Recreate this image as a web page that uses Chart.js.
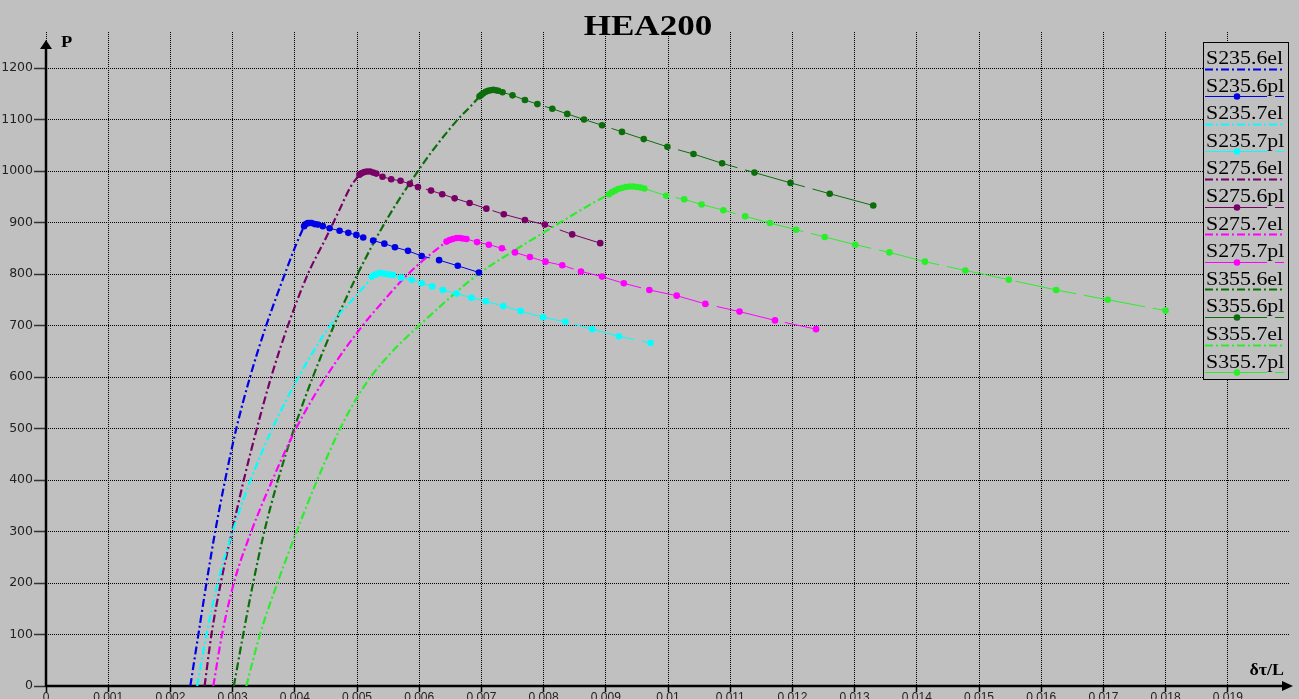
<!DOCTYPE html>
<html>
<head>
<meta charset="utf-8">
<title>HEA200</title>
<script src="https://cdn.jsdelivr.net/npm/chart.js@4.4.1/dist/chart.umd.min.js"></script>
<style>
  html, body { margin: 0; padding: 0; width: 1299px; height: 699px; overflow: hidden; background: #c0c0c0; }
  canvas { display: block; }
</style>
</head>
<body>
<canvas id="chart" width="1299" height="712"></canvas>
<script>
// Axis ticks
const xTicks = [0, 0.001, 0.002, 0.003, 0.004, 0.005, 0.006, 0.007, 0.008, 0.009,
                0.010, 0.011, 0.012, 0.013, 0.014, 0.015, 0.016, 0.017, 0.018, 0.019];
const xTickLabels = ['0', '0.001', '0.002', '0.003', '0.004', '0.005', '0.006', '0.007', '0.008', '0.009',
                     '0.01', '0.011', '0.012', '0.013', '0.014', '0.015', '0.016', '0.017', '0.018', '0.019'];
const yTicks = [0, 100, 200, 300, 400, 500, 600, 700, 800, 900, 1000, 1100, 1200];
const yTickLabels = ['0', '100', '200', '300', '400', '500', '600', '700', '800', '900', '1000', '1100', '1200'];

// S235, L/h = 6
const s2356elX = [0.00232, 0.00245, 0.00258, 0.00272, 0.00288, 0.00306, 0.00328, 0.00354, 0.00384, 0.00403, 0.00415];
const s2356elP = [0, 100, 200, 300, 400, 500, 600, 700, 800, 860, 893];
const s2356plX = [0.00415, 0.00418, 0.00421, 0.00424, 0.00427, 0.00432, 0.00437, 0.00445, 0.00456, 0.00472, 0.00486,
                  0.00499, 0.00510, 0.00526, 0.00544, 0.00561, 0.00582, 0.00604, 0.00632, 0.00662, 0.00696];
const s2356plP = [893, 897, 899, 899, 899, 897, 896, 893, 889, 884, 880,
                  876, 871, 865, 859, 852, 845, 835, 827, 816, 803];

// S235, L/h = 7
const s2357elX = [0.00243, 0.00258, 0.00276, 0.00300, 0.00329, 0.00364, 0.00406, 0.00457, 0.00500, 0.00518, 0.00524];
const s2357elP = [0, 100, 200, 300, 400, 500, 600, 700, 760, 785, 795];
const s2357plX = [0.00524, 0.00528, 0.00532, 0.00537, 0.00542, 0.00547, 0.00553, 0.00558, 0.00571, 0.00588, 0.00604, 0.00621,
                  0.00638, 0.00660, 0.00684, 0.00707, 0.00735, 0.00763, 0.00799, 0.00835, 0.00878, 0.00921, 0.00972];
const s2357plP = [795, 798, 800, 802, 801, 800, 799, 798, 793, 789, 782, 776,
                  769, 762, 754, 747, 738, 728, 716, 707, 693, 679, 666];

// S275, L/h = 6
const s2756elX = [0.00255, 0.00266, 0.00281, 0.00299, 0.00318, 0.00339, 0.00362, 0.00389, 0.00421, 0.00450, 0.00470, 0.00490, 0.00504];
const s2756elP = [0, 100, 200, 300, 400, 500, 600, 700, 800, 870, 920, 970, 993];
const s2756plX = [0.00504, 0.00508, 0.00512, 0.00516, 0.00521, 0.00526, 0.00531, 0.00541, 0.00555, 0.00570, 0.00585,
                  0.00598, 0.00619, 0.00637, 0.00657, 0.00681, 0.00708, 0.00736, 0.00770, 0.00802, 0.00846, 0.00891];
const s2756plP = [993, 996, 998, 999, 999, 997, 995, 989, 984, 981, 975,
                  969, 962, 955, 947, 938, 927, 916, 905, 896, 877, 860];

// S275, L/h = 7
const s2757elX = [0.00269, 0.00283, 0.00302, 0.00330, 0.00364, 0.00402, 0.00450, 0.00509, 0.00537, 0.00574, 0.00600, 0.00625, 0.00644];
const s2757elP = [0, 100, 200, 300, 400, 500, 600, 700, 740, 790, 820, 845, 863];
const s2757plX = [0.00644, 0.00649, 0.00654, 0.00660, 0.00665, 0.00670, 0.00676, 0.00693, 0.00712, 0.00733, 0.00754, 0.00778,
                  0.00803, 0.00830, 0.00860, 0.00894, 0.00929, 0.00970, 0.01014, 0.01060, 0.01115, 0.01172, 0.01238];
const s2757plP = [863, 866, 868, 870, 870, 869, 868, 862, 857, 850, 842, 833,
                  824, 817, 805, 795, 782, 769, 758, 742, 727, 710, 693];

// S355, L/h = 6
const s3556elX = [0.00302, 0.00317, 0.00333, 0.00351, 0.00373, 0.00399, 0.00429, 0.00463, 0.00501, 0.00545, 0.00598,
                  0.00628, 0.00662, 0.00686, 0.00697];
const s3556elP = [0, 100, 200, 300, 400, 500, 600, 700, 800, 900, 1000, 1050, 1100, 1130, 1145];
const s3556plX = [0.00697, 0.00700, 0.00703, 0.00707, 0.00711, 0.00715, 0.00719, 0.00723, 0.00727, 0.00734, 0.00750, 0.00770, 0.00790,
                  0.00814, 0.00838, 0.00865, 0.00894, 0.00926, 0.00961, 0.00999, 0.01041, 0.01087, 0.01139, 0.01197, 0.01260, 0.01330];
const s3556plP = [1145, 1148, 1151, 1154, 1156, 1157, 1158, 1157, 1156, 1153, 1147, 1138, 1130,
                  1121, 1111, 1100, 1089, 1076, 1062, 1047, 1033, 1015, 997, 977, 956, 933];

// S355, L/h = 7
const s3557elX = [0.00322, 0.00344, 0.00372, 0.00403, 0.00436, 0.00473, 0.00500, 0.00522, 0.00557, 0.00600, 0.00655,
                  0.00695, 0.00752, 0.00813, 0.00868, 0.00905];
const s3557elP = [0, 100, 200, 300, 400, 500, 560, 600, 650, 700, 760, 800, 845, 890, 930, 955];
const s3557plX = [0.00905, 0.00910, 0.00915, 0.00920, 0.00926, 0.00932, 0.00938, 0.00944, 0.00950, 0.00956, 0.00962, 0.00997, 0.01026,
                  0.01054, 0.01089, 0.01124, 0.01164, 0.01206, 0.01252, 0.01301, 0.01356, 0.01413, 0.01478, 0.01548, 0.01624, 0.01707, 0.01800];
const s3557plP = [955, 959, 962, 965, 967, 969, 970, 970, 969, 968, 966, 952, 945,
                  935, 924, 912, 899, 886, 872, 857, 842, 824, 807, 789, 769, 750, 729];

// Series colours
const colBlue = '#0000e6';
const colCyan = '#00ffff';
const colPurple = '#780066';
const colMagenta = '#ff00ff';
const colDarkGreen = '#0b6e0b';
const colLightGreen = '#2aee2a';

const elDash = [8, 3, 2, 3];
const plDash = [62, 8];

const toPoints = (xs, ps) => xs.map((x, i) => ({ x: x, y: ps[i] }));

function elSeries(label, color, xs, ps) {
  return {
    label: label, data: toPoints(xs, ps),
    borderColor: color, backgroundColor: color,
    borderWidth: 2.2, borderDash: elDash,
    pointRadius: 0, pointHoverRadius: 0,
    showLine: true, fill: false,
    cubicInterpolationMode: 'monotone',
    order: 2
  };
}
function plSeries(label, color, xs, ps) {
  return {
    label: label, data: toPoints(xs, ps),
    borderColor: color, backgroundColor: color,
    pointBackgroundColor: color, pointBorderColor: color,
    borderWidth: 1, borderDash: plDash,
    pointRadius: 3.3, pointBorderWidth: 0, pointHoverRadius: 3.3,
    showLine: true, fill: false, tension: 0,
    order: 1
  };
}

const datasets = [
  elSeries('S235.6el', colBlue, s2356elX, s2356elP),
  plSeries('S235.6pl', colBlue, s2356plX, s2356plP),
  elSeries('S235.7el', colCyan, s2357elX, s2357elP),
  plSeries('S235.7pl', colCyan, s2357plX, s2357plP),
  elSeries('S275.6el', colPurple, s2756elX, s2756elP),
  plSeries('S275.6pl', colPurple, s2756plX, s2756plP),
  elSeries('S275.7el', colMagenta, s2757elX, s2757elP),
  plSeries('S275.7pl', colMagenta, s2757plX, s2757plP),
  elSeries('S355.6el', colDarkGreen, s3556elX, s3556elP),
  plSeries('S355.6pl', colDarkGreen, s3556plX, s3556plP),
  elSeries('S355.7el', colLightGreen, s3557elX, s3557elP),
  plSeries('S355.7pl', colLightGreen, s3557plX, s3557plP)
];

// Text drawn with a slight horizontal stretch
function stretchedText(ctx, text, x, y, font, sx, align) {
  ctx.save();
  ctx.font = font;
  ctx.fillStyle = '#000';
  ctx.textBaseline = 'alphabetic';
  const w = ctx.measureText(text).width * sx;
  let left = x;
  if (align === 'center') left = x - w / 2;
  else if (align === 'right') left = x - w;
  ctx.translate(left, y);
  ctx.scale(sx, 1);
  ctx.textAlign = 'left';
  ctx.fillText(text, 0, 0);
  ctx.restore();
}

// Axis lines with arrow heads, title, axis names and the boxed legend
const framePlugin = {
  id: 'frame',
  beforeDatasetsDraw(chart) {
    const { ctx, chartArea: a } = chart;
    ctx.save();
    ctx.strokeStyle = '#000';
    ctx.fillStyle = '#000';
    ctx.lineWidth = 2.5;
    ctx.setLineDash([]);
    // x axis
    const xTip = a.right + 3;
    ctx.beginPath();
    ctx.moveTo(a.left, a.bottom);
    ctx.lineTo(xTip - 6, a.bottom);
    ctx.stroke();
    ctx.beginPath();
    ctx.moveTo(xTip, a.bottom);
    ctx.lineTo(xTip - 11, a.bottom - 5);
    ctx.lineTo(xTip - 11, a.bottom + 5);
    ctx.closePath();
    ctx.fill();
    // y axis
    const yTip = a.top + 8;
    ctx.beginPath();
    ctx.moveTo(a.left, a.bottom + 1);
    ctx.lineTo(a.left, yTip + 6);
    ctx.stroke();
    ctx.beginPath();
    ctx.moveTo(a.left, yTip);
    ctx.lineTo(a.left - 6, yTip + 9);
    ctx.lineTo(a.left + 6, yTip + 9);
    ctx.closePath();
    ctx.fill();
    ctx.restore();
  },
  afterDraw(chart) {
    const { ctx, chartArea: a } = chart;
    // title and axis names
    stretchedText(ctx, 'HEA200', 648, 35, 'bold 30px "Liberation Serif", serif', 1.17, 'center');
    stretchedText(ctx, 'P', a.left + 15, 47, 'bold 16px "Liberation Serif", serif', 1.15, 'left');
    stretchedText(ctx, 'δτ/L', a.right - 6, 675, 'bold 16px "Liberation Serif", serif', 1.12, 'right');

    // legend
    const bx = 1203, by = 42, bw = 85, bh = 337;
    ctx.save();
    ctx.fillStyle = '#c0c0c0';
    ctx.fillRect(bx, by, bw, bh);
    ctx.strokeStyle = '#000';
    ctx.lineWidth = 1;
    ctx.setLineDash([]);
    ctx.strokeRect(bx + 0.5, by + 0.5, bw, bh);
    ctx.restore();

    chart.data.datasets.forEach((ds, i) => {
      const base = 64 + i * 27.6;
      stretchedText(ctx, ds.label, bx + 3, base, '19px "Liberation Serif", serif', 1.15, 'left');
      const ly = Math.round(base + 4.5) + 0.5;
      ctx.save();
      ctx.strokeStyle = ds.borderColor;
      ctx.lineWidth = ds.borderWidth;
      ctx.setLineDash(ds.borderDash);
      ctx.beginPath();
      ctx.moveTo(bx + 2, ly);
      ctx.lineTo(bx + bw - 4, ly);
      ctx.stroke();
      if (ds.pointRadius > 0) {
        ctx.setLineDash([]);
        ctx.fillStyle = ds.pointBackgroundColor;
        ctx.beginPath();
        ctx.arc(bx + 34, ly, ds.pointRadius, 0, Math.PI * 2);
        ctx.fill();
      }
      ctx.restore();
    });
  }
};

new Chart(document.getElementById('chart'), {
  type: 'scatter',
  data: { datasets: datasets },
  plugins: [framePlugin],
  options: {
    responsive: false,
    animation: false,
    devicePixelRatio: 1,
    events: [],
    layout: { padding: { top: 32, right: 9, bottom: 0, left: 0 } },
    plugins: {
      legend: { display: false },
      title: { display: false },
      tooltip: { enabled: false }
    },
    scales: {
      x: {
        type: 'linear', position: 'bottom', min: 0, max: 0.02,
        afterBuildTicks: (s) => { s.ticks = xTicks.map(v => ({ value: v })); },
        afterFit: (s) => { s.height = 26; },
        ticks: {
          autoSkip: false, maxRotation: 0, minRotation: 0, padding: -2,
          color: '#222',
          font: { family: '"Liberation Sans", Arial, sans-serif', size: 12 },
          callback: (v, i) => xTickLabels[i]
        },
        grid: {
          color: '#000', lineWidth: 1,
          drawTicks: true, tickLength: 6, tickColor: '#000', tickWidth: 1.5, tickBorderDash: []
        },
        border: { display: false, dash: [1, 1] }
      },
      y: {
        type: 'linear', position: 'left', min: 0, max: 1270,
        afterBuildTicks: (s) => { s.ticks = yTicks.map(v => ({ value: v })); },
        afterFit: (s) => { s.width = 46; },
        ticks: {
          autoSkip: false, padding: 1,
          color: '#222',
          font: { family: '"DejaVu Sans", sans-serif', size: 12.5 },
          callback: (v, i) => yTickLabels[i]
        },
        grid: {
          color: '#000', lineWidth: 1,
          drawTicks: true, tickLength: 12, tickColor: '#333', tickWidth: 1.5, tickBorderDash: []
        },
        border: { display: false, dash: [1, 1] }
      }
    }
  }
});
</script>
</body>
</html>
